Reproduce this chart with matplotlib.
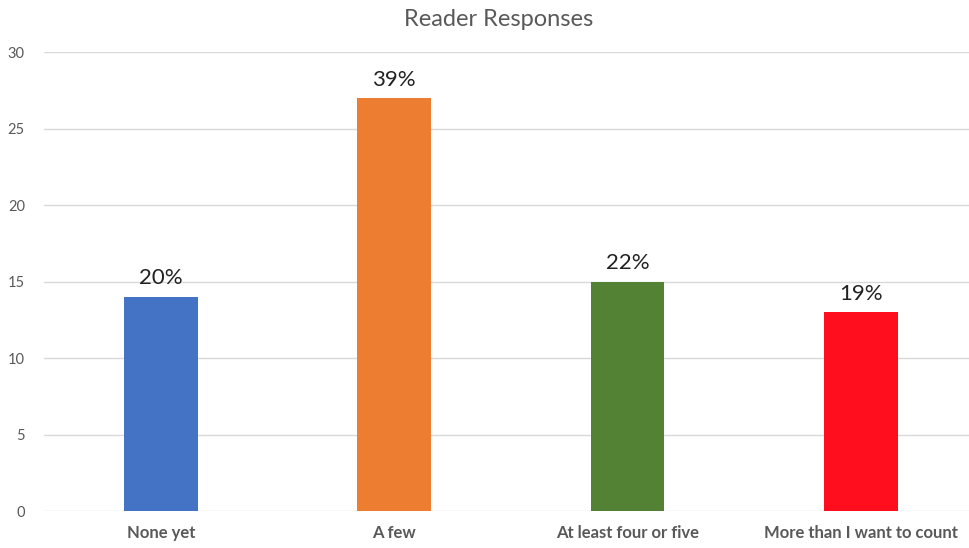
import matplotlib
matplotlib.use("Agg")
import matplotlib.pyplot as plt

categories = ["None yet", "A few", "At least four or five", "More than I want to count"]
counts = [14, 27, 15, 13]
pct_labels = ["20%", "39%", "22%", "19%"]
colors = ["#4472C4", "#ED7D31", "#548235", "#FF0E1E"]

plt.rcParams["font.family"] = ["Lato", "DejaVu Sans"]

fig = plt.figure(figsize=(9.69, 5.48), dpi=100)
ax = fig.add_axes([0.0457, 0.0675, 0.963, 0.8375])

x = range(len(categories))
bars = ax.bar(x, counts, width=0.315, color=colors, zorder=3)

for b, lab in zip(bars, pct_labels):
    ax.annotate(lab, (b.get_x() + b.get_width() / 2, b.get_height()),
                xytext=(0, 6), textcoords="offset points",
                ha="center", va="bottom", fontsize=16, color="#222222")

ax.set_xlim(-0.5, 3.5)
ax.set_ylim(0, 30)
ax.set_yticks(range(0, 31, 5))
ax.set_xticks(list(x))
ax.set_xticklabels(categories, fontsize=12, fontweight="bold", color="#595959")
ax.tick_params(axis="y", labelsize=10.5, labelcolor="#595959", length=0, pad=14)
ax.tick_params(axis="x", length=0, pad=10)
ax.grid(axis="y", color="#D9D9D9", linewidth=1, zorder=0)
for s in ax.spines.values():
    s.set_visible(False)

fig.text(0.515, 0.965, "Reader Responses", ha="center", va="center",
         fontsize=17, color="#595959")

fig.savefig("out.png", dpi=100)
